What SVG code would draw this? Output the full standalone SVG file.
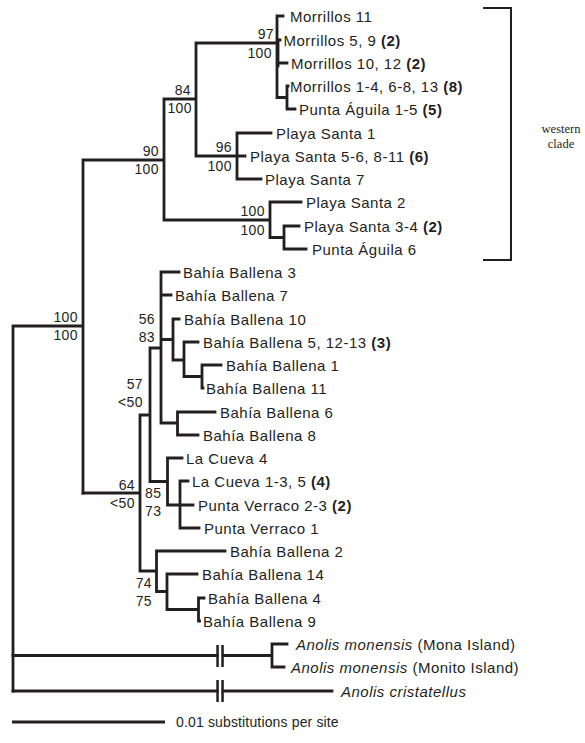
<svg xmlns="http://www.w3.org/2000/svg" width="585" height="743" viewBox="0 0 585 743">
<style>
.br{stroke:#231f20;stroke-width:2.8;fill:none;stroke-linecap:square}
.bar{fill:#231f20}
.lb{font-family:"Liberation Sans",Arial,sans-serif;font-size:15px;letter-spacing:0.5px;fill:#231f20}
.sp{font-family:"Liberation Sans",Arial,sans-serif;font-size:14px;letter-spacing:0.4px;fill:#231f20}
.sr{text-anchor:end}
.it{font-style:italic}
.b{font-weight:bold}
.cl{font-family:"Liberation Serif","Times New Roman",serif;font-size:12.5px;fill:#231f20;text-anchor:middle}
</style>
<rect width="585" height="743" fill="#ffffff"/>
<g id="connectors">
<path class="br" d="M13 326 V691 M13 326 H83 M83 160 V493 M83 160 H164 M164 99 V220 M164 99 H196 M196 43 V156 M196 43 H277 M277 16 V97.5 M277 16 H283 M277 40 H280 M277 63 H287 M277 97.5 H287 M287 86 V109 M287 86 H288 M287 109 H295 M196 156 H237 M237 133 V179 M237 133 H271 M237 156 H245 M237 179 H261 M164 220 H270 M270 202 V237.5 M270 202 H301 M270 237.5 H284 M284 226 V249 M284 226 H299 M284 249 H306"/>
<path class="br" stroke-width="4.5" d="M278 40 V66"/>
<path class="br" d="M83 493 H140 M140 415 V571 M140 415 H150 M150 348 V481.5 M150 348 H161 M161 272 V423 M161 272 H179 M161 295 H171 M161 339.5 H173 M173 319 V360 M173 319 H179 M173 360 H184 M184 342 V376.5 M184 342 H198 M184 376.5 H202 M202 365 V388 M202 365 H221 M202 388 H203 M161 423 H177.5 M177.5 412 V435 M177.5 412 H215 M177.5 435 H198 M150 481.5 H167.5 M167.5 458 V505 M167.5 458 H182 M167.5 505 H180 M180 481 V528 M180 481 H188 M180 505 H193 M180 528 H199 M140 571 H156.5 M156.5 551 V591.5 M156.5 551 H225 M156.5 591.5 H167 M167 574 V609.5 M167 574 H197 M167 609.5 H198.5 M198.5 598 V621 M198.5 598 H204 M198.5 621 H199.5"/>
<path class="br" d="M13 655.5 H217 M223 655.5 H272 M272 644 V667 M272 644 H287 M272 667 H284 M13 691 H217 M223 691 H332"/>
<rect class="bar" x="216.3" y="645" width="2.5" height="22"/>
<rect class="bar" x="221.3" y="645" width="2.5" height="22"/>
<rect class="bar" x="216.3" y="680" width="2.5" height="22"/>
<rect class="bar" x="221.3" y="680" width="2.5" height="22"/>
</g>
<g id="leaves">
<g id="n-morrillos11"><text class="lb" x="290" y="22">Morrillos 11</text></g>
<g id="n-morrillos5-9"><text class="lb" x="283.5" y="46">Morrillos 5, 9 <tspan class="b">(2)</tspan></text></g>
<g id="n-morrillos10-12"><text class="lb" x="291" y="69">Morrillos 10, 12 <tspan class="b">(2)</tspan></text></g>
<g id="n-morrillos1-4"><text class="lb" x="290" y="92">Morrillos 1-4, 6-8, 13 <tspan class="b">(8)</tspan></text></g>
<g id="n-puntaaguila1-5"><text class="lb" x="299" y="115">Punta Águila 1-5 <tspan class="b">(5)</tspan></text></g>
<g id="n-playasanta1"><text class="lb" x="276" y="139">Playa Santa 1</text></g>
<g id="n-playasanta5-6"><text class="lb" x="250" y="162">Playa Santa 5-6, 8-11 <tspan class="b">(6)</tspan></text></g>
<g id="n-playasanta7"><text class="lb" x="265" y="185">Playa Santa 7</text></g>
<g id="n-playasanta2"><text class="lb" x="306" y="208">Playa Santa 2</text></g>
<g id="n-playasanta3-4"><text class="lb" x="304" y="232">Playa Santa 3-4 <tspan class="b">(2)</tspan></text></g>
<g id="n-puntaaguila6"><text class="lb" x="312" y="255">Punta Águila 6</text></g>
<g id="n-bb3"><text class="lb" x="183" y="278">Bahía Ballena 3</text></g>
<g id="n-bb7"><text class="lb" x="175" y="301">Bahía Ballena 7</text></g>
<g id="n-bb10"><text class="lb" x="184" y="325">Bahía Ballena 10</text></g>
<g id="n-bb5"><text class="lb" x="203" y="348">Bahía Ballena 5, 12-13 <tspan class="b">(3)</tspan></text></g>
<g id="n-bb1"><text class="lb" x="226" y="371">Bahía Ballena 1</text></g>
<g id="n-bb11"><text class="lb" x="206" y="394">Bahía Ballena 11</text></g>
<g id="n-bb6"><text class="lb" x="220" y="418">Bahía Ballena 6</text></g>
<g id="n-bb8"><text class="lb" x="203" y="441">Bahía Ballena 8</text></g>
<g id="n-lacueva4"><text class="lb" x="186" y="464">La Cueva 4</text></g>
<g id="n-lacueva1-3"><text class="lb" x="192" y="487">La Cueva 1-3, 5 <tspan class="b">(4)</tspan></text></g>
<g id="n-puntaverraco2-3"><text class="lb" x="198" y="511">Punta Verraco 2-3 <tspan class="b">(2)</tspan></text></g>
<g id="n-puntaverraco1"><text class="lb" x="204" y="534">Punta Verraco 1</text></g>
<g id="n-bb2"><text class="lb" x="230" y="557">Bahía Ballena 2</text></g>
<g id="n-bb14"><text class="lb" x="202" y="580">Bahía Ballena 14</text></g>
<g id="n-bb4"><text class="lb" x="208" y="604">Bahía Ballena 4</text></g>
<g id="n-bb9"><text class="lb" x="203" y="627">Bahía Ballena 9</text></g>
<g id="n-mona"><text class="lb" x="296" y="650"><tspan class="it">Anolis monensis</tspan> (Mona Island)</text></g>
<g id="n-monito"><text class="lb" x="291" y="673"><tspan class="it">Anolis monensis</tspan> (Monito Island)</text></g>
<g id="n-cristatellus"><text class="lb it" x="341" y="697">Anolis cristatellus</text></g>
</g>
<g id="support">
<g id="s-97"><text class="sp sr" x="274" y="39">97</text><text class="sp sr" x="272" y="58">100</text></g>
<g id="s-84"><text class="sp sr" x="191" y="95">84</text><text class="sp sr" x="192" y="113">100</text></g>
<g id="s-96"><text class="sp sr" x="232" y="152">96</text><text class="sp sr" x="232" y="171">100</text></g>
<g id="s-90"><text class="sp sr" x="159" y="156">90</text><text class="sp sr" x="159" y="174">100</text></g>
<g id="s-100ps"><text class="sp sr" x="265" y="216">100</text><text class="sp sr" x="265" y="235">100</text></g>
<g id="s-100root"><text class="sp sr" x="78" y="322">100</text><text class="sp sr" x="78" y="340">100</text></g>
<g id="s-56"><text class="sp sr" x="155" y="324">56</text><text class="sp sr" x="155" y="342">83</text></g>
<g id="s-57"><text class="sp sr" x="143" y="389">57</text><text class="sp sr" x="143" y="407">&lt;50</text></g>
<g id="s-64"><text class="sp sr" x="135" y="490">64</text><text class="sp sr" x="135" y="508">&lt;50</text></g>
<g id="s-85"><text class="sp" x="145" y="498">85</text><text class="sp" x="145" y="516">73</text></g>
<g id="s-74"><text class="sp sr" x="152" y="588">74</text><text class="sp sr" x="152" y="606">75</text></g>
</g>
<g id="western-clade">
<path d="M483 8 H511 V260 H483" fill="none" stroke="#231f20" stroke-width="2"/>
<text class="cl" x="561" y="133">western</text>
<text class="cl" x="561" y="148">clade</text>
</g>
<g id="scale-bar">
<path d="M12 722 H165" stroke="#231f20" stroke-width="3"/>
<text x="176" y="727" font-family="Liberation Sans, Arial, sans-serif" font-size="14" letter-spacing="0.15" fill="#231f20">0.01 substitutions per site</text>
</g>
</svg>
